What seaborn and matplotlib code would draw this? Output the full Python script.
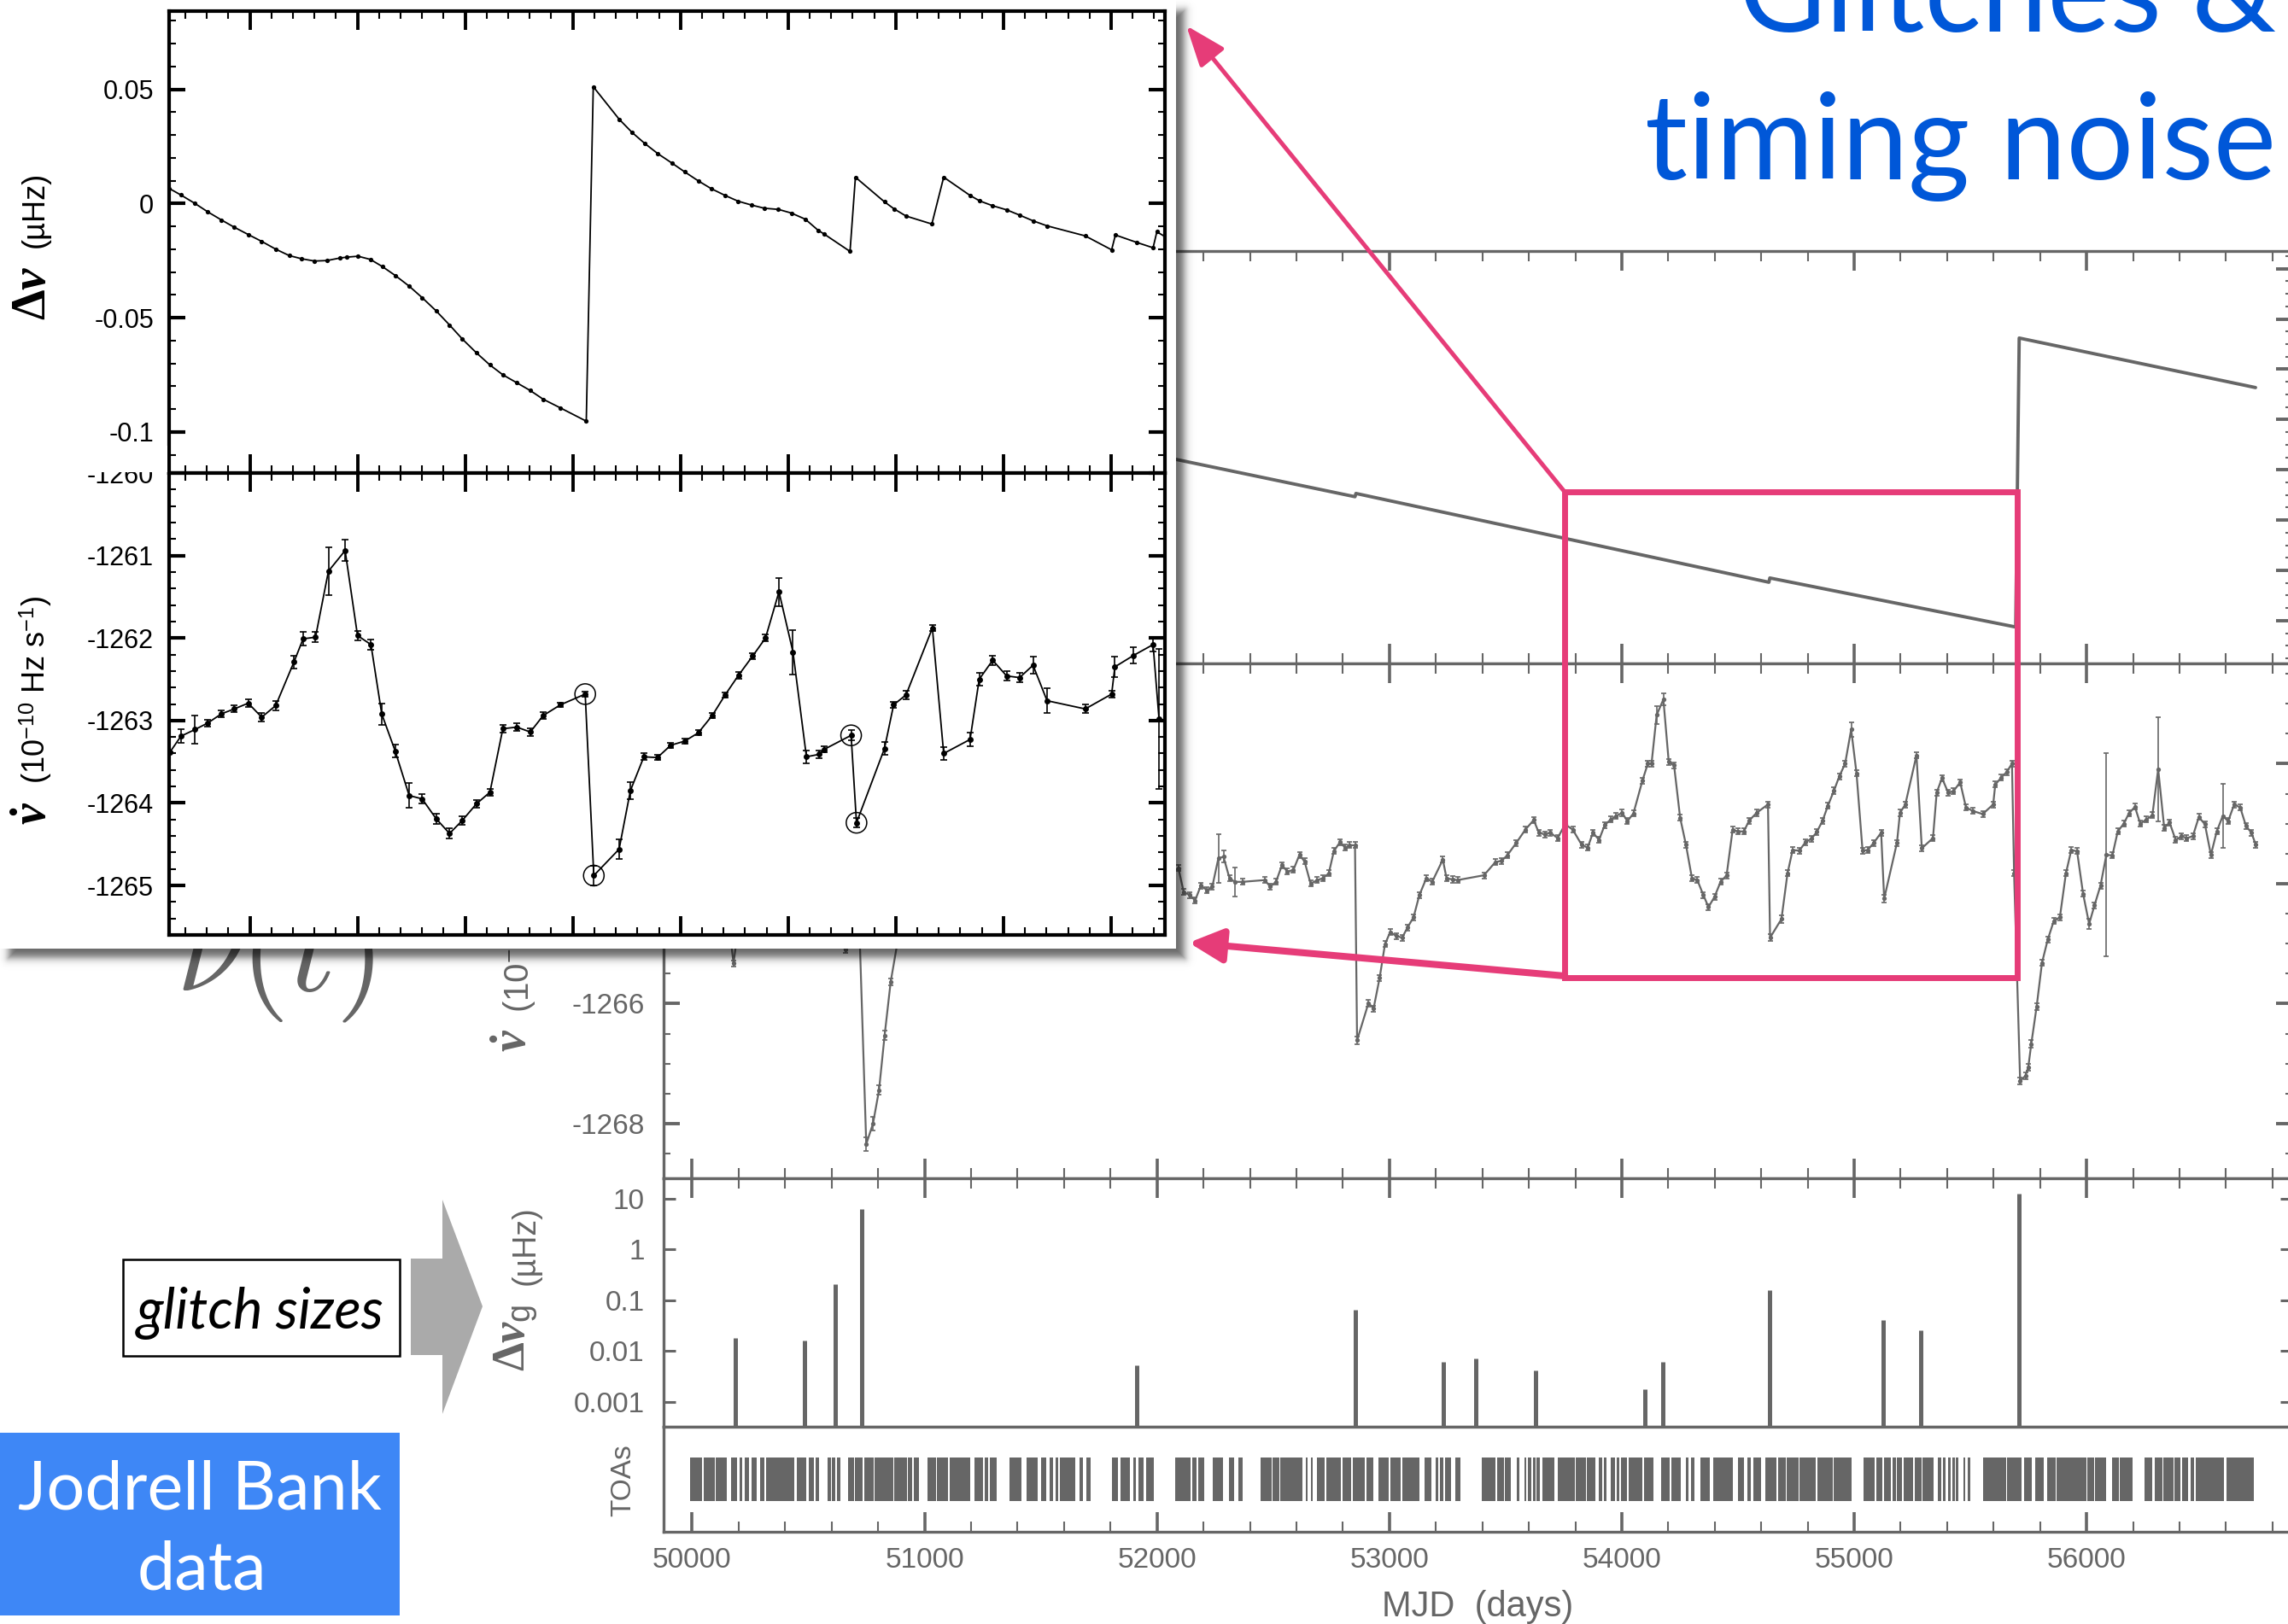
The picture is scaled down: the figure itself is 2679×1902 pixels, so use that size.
import numpy as np
import matplotlib
matplotlib.use("Agg")
import matplotlib.pyplot as plt
import seaborn as sns
from matplotlib.patches import Rectangle, Polygon, FancyArrowPatch
from matplotlib.ticker import MultipleLocator, LogLocator, NullFormatter

# ---------------------------------------------------------------- data
# glitch epochs (MJD) and sizes (microHz)
GLITCH_MJD = [50185, 50482, 50614, 50731, 51914, 52854, 53234, 53370, 53629,
              54101, 54175, 54637, 55124, 55285, 55709]
GLITCH_SIZE = [0.018, 0.016, 0.21, 6.2, 0.0052, 0.065, 0.0062, 0.0072, 0.0041,
               0.0018, 0.0062, 0.16, 0.041, 0.026, 12.3]

# spin frequency (arbitrary offset units) at break points
NU_MJD = [49990, 52092, 52852, 52856, 54633, 54637, 55695, 55710, 56727]
NU_VAL = [5.22, 3.197, 2.465, 2.530, 0.764, 0.849, -0.126, 5.620, 4.635]

# frequency derivative, full data span (1e-10 Hz/s)
NUDOT_MJD = [
    49990, 50060, 50120, 50165, 50178, 50192, 50260, 50380, 50480, 50560,
    50658, 50720, 50749, 50778, 50804, 50828, 50854, 50900, 51000, 51200,
    51450, 51700, 51950, 52050,
    52092, 52115, 52141, 52164, 52189, 52215, 52238, 52264, 52286, 52312,
    52335, 52367, 52464, 52487, 52512, 52538, 52561, 52587, 52613, 52635,
    52661, 52690, 52713, 52739, 52761, 52787, 52810, 52829, 52852, 52861,
    52910, 52932, 52958, 52981, 53003, 53029, 53055, 53078, 53104, 53129,
    53159, 53184, 53230, 53246, 53272, 53294, 53407, 53456, 53482, 53507,
    53546, 53585, 53621, 53643, 53669, 53692, 53724, 53756, 53789, 53827,
    53853, 53876, 53902, 53927, 53953, 53976, 54002, 54024, 54050, 54089,
    54112, 54128, 54150, 54179, 54202, 54225, 54251, 54276, 54302, 54325,
    54351, 54373, 54399, 54425, 54451, 54477, 54499, 54525, 54548, 54580,
    54629, 54638, 54687, 54713, 54735, 54764, 54790, 54816, 54839, 54864,
    54887, 54913, 54936, 54961, 54987, 55010, 55036, 55058, 55084, 55116,
    55129, 55184, 55197, 55220, 55268, 55291, 55339, 55355, 55378, 55404,
    55427, 55456, 55481, 55511, 55553, 55598, 55607, 55633, 55656, 55679,
    55688, 55714, 55737, 55749, 55762, 55785, 55808, 55833, 55859, 55885,
    55911, 55934, 55959, 55985, 56011, 56034, 56060, 56085, 56111, 56134,
    56160, 56182, 56208, 56231, 56257, 56283, 56308, 56334, 56357, 56383,
    56409, 56431, 56457, 56483, 56509, 56535, 56560, 56586, 56609, 56635,
    56661, 56686, 56709, 56728]
NUDOT_VAL = [
    -1264.20, -1264.50, -1264.70, -1264.90, -1265.33, -1264.90, -1264.60, -1264.30, -1264.70, -1264.40,
    -1265.10, -1264.80, -1268.34, -1268.00, -1267.44, -1266.53, -1265.64, -1264.60, -1264.20, -1263.90,
    -1263.80, -1263.90, -1264.00, -1263.85,
    -1263.74, -1264.14, -1264.19, -1264.28, -1264.03, -1264.11, -1264.05, -1263.58, -1263.55, -1263.91,
    -1263.97, -1263.97, -1263.94, -1264.05, -1263.97, -1263.69, -1263.80, -1263.77, -1263.52, -1263.63,
    -1264.00, -1263.94, -1263.91, -1263.83, -1263.46, -1263.31, -1263.40, -1263.36, -1263.36, -1266.61,
    -1265.99, -1266.08, -1265.57, -1265.01, -1264.81, -1264.87, -1264.90, -1264.73, -1264.56, -1264.19,
    -1263.91, -1263.97, -1263.60, -1263.91, -1263.93, -1263.94, -1263.86, -1263.64, -1263.62, -1263.53,
    -1263.32, -1263.10, -1262.94, -1263.15, -1263.18, -1263.15, -1263.24, -1263.01, -1263.10, -1263.35,
    -1263.40, -1263.15, -1263.27, -1263.02, -1262.93, -1262.87, -1262.82, -1262.96, -1262.83, -1262.28,
    -1262.00, -1262.00, -1261.19, -1260.93, -1261.97, -1262.03, -1262.90, -1263.35, -1263.91, -1263.94,
    -1264.19, -1264.39, -1264.22, -1263.97, -1263.86, -1263.10, -1263.13, -1263.13, -1262.95, -1262.82,
    -1262.68, -1264.90, -1264.59, -1263.83, -1263.44, -1263.45, -1263.31, -1263.25, -1263.14, -1262.95,
    -1262.70, -1262.45, -1262.21, -1262.00, -1261.43, -1262.16, -1263.45, -1263.44, -1263.32, -1263.15,
    -1264.25, -1263.32, -1262.82, -1262.68, -1261.86, -1263.41, -1263.24, -1262.48, -1262.24, -1262.48,
    -1262.46, -1262.31, -1262.73, -1262.79, -1262.84, -1262.68, -1262.35, -1262.23, -1262.14, -1262.00,
    -1263.83, -1267.29, -1267.20, -1267.06, -1266.67, -1266.05, -1265.32, -1264.93, -1264.62, -1264.56,
    -1263.83, -1263.44, -1263.46, -1264.17, -1264.67, -1264.36, -1264.03, -1263.52, -1263.53, -1263.13,
    -1263.00, -1262.83, -1262.72, -1263.00, -1262.93, -1262.86, -1262.09, -1263.07, -1262.98, -1263.27,
    -1263.21, -1263.24, -1263.21, -1262.89, -1263.01, -1263.52, -1263.13, -1262.87, -1262.96, -1262.68,
    -1262.73, -1263.04, -1263.15, -1263.35]
NUDOT_ERR = [
    0.05, 0.05, 0.05, 0.05, 0.05, 0.05, 0.05, 0.05, 0.05, 0.05,
    0.05, 0.05, 0.12, 0.12, 0.08, 0.08, 0.06, 0.05, 0.05, 0.05,
    0.05, 0.05, 0.05, 0.05,
    0.05, 0.05, 0.05, 0.05, 0.05, 0.05, 0.05, 0.41, 0.10, 0.05,
    0.24, 0.05, 0.05, 0.05, 0.05, 0.05, 0.05, 0.05, 0.05, 0.05,
    0.05, 0.05, 0.05, 0.05, 0.05, 0.05, 0.05, 0.05, 0.05, 0.06,
    0.06, 0.05, 0.05, 0.05, 0.05, 0.05, 0.05, 0.05, 0.05, 0.05,
    0.05, 0.05, 0.05, 0.05, 0.05, 0.05, 0.05, 0.05, 0.05, 0.05,
    0.05, 0.05, 0.05, 0.05, 0.05, 0.05, 0.05, 0.05, 0.05, 0.05,
    0.05, 0.05, 0.05, 0.05, 0.05, 0.05, 0.05, 0.05, 0.05, 0.05,
    0.05, 0.05, 0.15, 0.10, 0.05, 0.05, 0.05, 0.05, 0.05, 0.05,
    0.05, 0.05, 0.05, 0.05, 0.05, 0.05, 0.05, 0.05, 0.05, 0.05,
    0.05, 0.06, 0.06, 0.05, 0.05, 0.05, 0.05, 0.05, 0.05, 0.05,
    0.05, 0.05, 0.05, 0.05, 0.12, 0.05, 0.05, 0.05, 0.05, 0.05,
    0.06, 0.05, 0.05, 0.05, 0.05, 0.05, 0.05, 0.05, 0.05, 0.05,
    0.05, 0.05, 0.05, 0.05, 0.05, 0.05, 0.05, 0.05, 0.05, 0.05,
    0.05, 0.06, 0.06, 0.06, 0.06, 0.05, 0.05, 0.05, 0.05, 0.05,
    0.05, 0.05, 0.05, 0.05, 0.08, 0.05, 0.05, 1.69, 0.05, 0.05,
    0.05, 0.05, 0.05, 0.05, 0.05, 0.05, 0.87, 0.05, 0.05, 0.05,
    0.05, 0.05, 0.05, 0.05, 0.05, 0.05, 0.05, 0.54, 0.05, 0.05,
    0.05, 0.05, 0.05, 0.05]

# times of arrival: observing blocks (start, end MJD)
TOA_START = [
    49991, 50048, 50100, 50168, 50205, 50227, 50255, 50292, 50318, 50449,
    50501, 50532, 50582, 50601, 50623, 50671, 50701, 50741, 50786, 50871,
    50928, 50954, 51011, 51054, 51109, 51213, 51257, 51281, 51364, 51438,
    51501, 51538, 51562, 51582, 51667, 51697, 51806, 51843, 51897, 51922,
    51952, 52078, 52152, 52176, 52240, 52309, 52349, 52444, 52497, 52532,
    52640, 52662, 52688, 52728, 52797, 52841, 52902, 52952, 53004, 53054,
    53152, 53200, 53218, 53240, 53285,
    53399, 53464, 53497, 53549, 53580, 53597, 53619, 53632, 53660, 53726,
    53802, 53850, 53900, 53922, 53954, 53978, 53998, 54031, 54096, 54168,
    54212, 54277, 54299, 54338, 54395, 54499, 54540, 54567, 54617, 54671,
    54710, 54765, 54841, 54913, 55039, 55094, 55127, 55166, 55185, 55212,
    55262, 55294, 55360, 55381, 55403, 55421, 55438, 55471, 55490, 55556,
    55658, 55730, 55780, 55830, 55872, 56002, 56035, 56111, 56144, 56251,
    56294, 56329, 56377, 56410, 56447, 56469, 56601]
TOA_END = [
    50041, 50096, 50150, 50194, 50216, 50244, 50277, 50309, 50440, 50492,
    50523, 50545, 50597, 50617, 50636, 50695, 50732, 50780, 50867, 50924,
    50948, 50974, 51048, 51102, 51196, 51250, 51272, 51312, 51418, 51486,
    51525, 51551, 51573, 51649, 51682, 51715, 51832, 51882, 51908, 51941,
    51987, 52144, 52170, 52205, 52283, 52331, 52368, 52492, 52525, 52627,
    52649, 52671, 52721, 52791, 52836, 52895, 52932, 52998, 53048, 53128,
    53181, 53211, 53233, 53264, 53305,
    53458, 53493, 53523, 53558, 53588, 53610, 53628, 53649, 53710, 53798,
    53845, 53887, 53915, 53933, 53970, 53989, 54024, 54089, 54137, 54205,
    54255, 54286, 54312, 54377, 54477, 54525, 54554, 54599, 54667, 54706,
    54761, 54835, 54909, 54989, 55087, 55120, 55159, 55181, 55207, 55255,
    55290, 55340, 55373, 55394, 55414, 55432, 55447, 55479, 55501, 55654,
    55719, 55763, 55817, 55867, 55998, 56031, 56085, 56140, 56198, 56281,
    56325, 56373, 56405, 56438, 56464, 56590, 56720]

# zoomed interval: frequency residual (microHz)
DNU_MJD = [
    53850, 53872, 53898, 53922, 53947, 53971, 53997, 54022, 54048, 54073,
    54096, 54120, 54143, 54167, 54180, 54201, 54224, 54246, 54270, 54296,
    54320, 54346, 54371, 54395, 54421, 54446, 54470, 54496, 54521, 54545,
    54577, 54625, 54638, 54686, 54710, 54734, 54758, 54784, 54808, 54833,
    54857, 54883, 54907, 54932, 54956, 54982, 55006, 55032, 55056, 55067,
    55115, 55125, 55179, 55197, 55219, 55267, 55289, 55338, 55356, 55380,
    55406, 55430, 55455, 55481, 55552, 55601, 55608, 55647, 55678, 55685,
    55700]
DNU_VAL = [
    0.0066, 0.0037, 0.0000, -0.0037, -0.0072, -0.0104, -0.0136, -0.0166, -0.0200, -0.0228,
    -0.0242, -0.0252, -0.0250, -0.0239, -0.0235, -0.0231, -0.0245, -0.0276, -0.0315, -0.0362,
    -0.0412, -0.0470, -0.0532, -0.0594, -0.0654, -0.0707, -0.0750, -0.0785, -0.0819, -0.0857,
    -0.0895, -0.0953, 0.0511, 0.0369, 0.0311, 0.0262, 0.0218, 0.0177, 0.0138, 0.0099,
    0.0065, 0.0035, 0.0010, -0.0007, -0.0021, -0.0026, -0.0042, -0.0069, -0.0118, -0.0134,
    -0.0210, 0.0115, 0.0007, -0.0024, -0.0055, -0.0090, 0.0115, 0.0035, 0.0011, -0.0010,
    -0.0028, -0.0051, -0.0076, -0.0098, -0.0142, -0.0203, -0.0138, -0.0170, -0.0194, -0.0124,
    -0.0145]

# zoomed interval: frequency derivative (1e-10 Hz/s)
ZNUDOT_MJD = [
    53852, 53872, 53898, 53922, 53947, 53971, 53997, 54022, 54048, 54082,
    54099, 54122, 54146, 54177, 54200, 54225, 54245, 54270, 54296, 54320,
    54346, 54371, 54395, 54421, 54446, 54470, 54496, 54521, 54545, 54577,
    54623, 54639, 54686, 54707, 54732, 54757, 54782, 54808, 54833, 54859,
    54883, 54908, 54934, 54958, 54983, 55009, 55034, 55058, 55067, 55117,
    55127, 55179, 55196, 55219, 55268, 55289, 55338, 55355, 55380, 55406,
    55430, 55455, 55481, 55552, 55601, 55607, 55642, 55678, 55689]
ZNUDOT_VAL = [
    -1263.38, -1263.19, -1263.11, -1263.03, -1262.92, -1262.86, -1262.79, -1262.96, -1262.82, -1262.29,
    -1262.01, -1261.99, -1261.19, -1260.94, -1261.97, -1262.08, -1262.92, -1263.37, -1263.91, -1263.95,
    -1264.19, -1264.37, -1264.21, -1264.01, -1263.87, -1263.10, -1263.08, -1263.14, -1262.94, -1262.81,
    -1262.68, -1264.88, -1264.56, -1263.85, -1263.44, -1263.45, -1263.30, -1263.25, -1263.15, -1262.94,
    -1262.69, -1262.45, -1262.22, -1262.00, -1261.44, -1262.17, -1263.44, -1263.41, -1263.35, -1263.18,
    -1264.24, -1263.34, -1262.81, -1262.69, -1261.88, -1263.40, -1263.23, -1262.50, -1262.27, -1262.46,
    -1262.48, -1262.33, -1262.76, -1262.86, -1262.68, -1262.35, -1262.21, -1262.08, -1262.98]
ZNUDOT_ERR = [
    0.00, 0.08, 0.17, 0.04, 0.04, 0.04, 0.05, 0.05, 0.06, 0.08,
    0.08, 0.06, 0.29, 0.13, 0.06, 0.06, 0.13, 0.08, 0.15, 0.06,
    0.06, 0.06, 0.05, 0.05, 0.04, 0.05, 0.05, 0.05, 0.04, 0.03,
    0.03, 0.12, 0.12, 0.10, 0.04, 0.03, 0.03, 0.03, 0.03, 0.03,
    0.03, 0.04, 0.04, 0.04, 0.17, 0.27, 0.08, 0.05, 0.04, 0.06,
    0.06, 0.08, 0.04, 0.05, 0.04, 0.08, 0.08, 0.08, 0.06, 0.06,
    0.06, 0.10, 0.15, 0.05, 0.04, 0.12, 0.10, 0.08, 0.85]
CIRCLED_MJD = [54623, 54639, 55117, 55127]

MAIN_XTICK_LABELS = ["50000", "51000", "52000", "53000", "54000", "55000", "56000"]
GLITCH_TICKS = [0.001, 0.01, 0.1, 1, 10]
GLITCH_TICK_LABELS = ["0.001", "0.01", "0.1", "1", "10"]
NUDOT_TICKS = [-1268, -1266, -1264, -1262]
ZNUDOT_TICKS = [-1265, -1264, -1263, -1262, -1261, -1260]
DNU_TICKS = [-0.1, -0.05, 0, 0.05]
DNU_TICK_LABELS = ["-0.1", "-0.05", "0", "0.05"]

# ---------------------------------------------------------------- style
sns.set_theme(style="white")
plt.rcParams["font.family"] = ["Liberation Sans", "DejaVu Sans"]
plt.rcParams.update({
    "axes.unicode_minus": False,
    "mathtext.fontset": "custom",
    "mathtext.rm": "Liberation Serif:bold",
    "mathtext.it": "Liberation Serif:italic:bold",
    "mathtext.bf": "Liberation Serif:bold",
    "mathtext.sf": "Liberation Sans",
})

GRAY = "#666666"
PINK = "#E63C78"
BLUE_TITLE = "#0057D8"
BLUE_BOX = "#3E87F6"

W, H = 2679, 1902
fig = plt.figure(figsize=(W / 100, H / 100), dpi=100)
fig.patch.set_facecolor("white")


def box(x0, y0, x1, y1):
    """pixel box measured from the top-left corner -> figure rect"""
    return [x0 / W, 1 - y1 / H, (x1 - x0) / W, (y1 - y0) / H]


def fp(x, y):
    return (x / W, 1 - y / H)


def fig_rect(x0, y0, x1, y1, **kw):
    r = Rectangle((x0 / W, 1 - y1 / H), (x1 - x0) / W, (y1 - y0) / H,
                  transform=fig.transFigure, **kw)
    fig.add_artist(r)
    return r


# ---------------------------------------------------------------- main figure
MAIN_XLIM = (49877, 56885)
ax_nu = fig.add_axes(box(777, 294, 2684, 777), zorder=0)
ax_nd = fig.add_axes(box(777, 777, 2684, 1380), zorder=0)
ax_gl = fig.add_axes(box(777, 1380, 2684, 1671), zorder=0)
ax_toa = fig.add_axes(box(777, 1671, 2684, 1794), zorder=0)


def main_style(ax, top, bottom, yticks=True):
    ax.set_facecolor("white")
    ax.grid(False)
    ax.set_xlim(MAIN_XLIM)
    for s in ax.spines.values():
        s.set_visible(True)
        s.set_color(GRAY)
        s.set_linewidth(2.4)
    ax.xaxis.set_major_locator(MultipleLocator(1000))
    ax.xaxis.set_minor_locator(MultipleLocator(200))
    ax.tick_params(axis="x", which="both", direction="in", top=top, bottom=bottom,
                   labelbottom=False, labeltop=False, color=GRAY)
    ax.tick_params(axis="x", which="major", length=16.5, width=2.6)
    ax.tick_params(axis="x", which="minor", length=8.5, width=1.5)
    ax.tick_params(axis="y", which="both", direction="in", left=yticks, right=yticks,
                   color=GRAY, labelcolor=GRAY, labelsize=24, pad=16)
    ax.tick_params(axis="y", which="major", length=14, width=2.8)
    ax.tick_params(axis="y", which="minor", length=6, width=1.5)
    ax.set_xlabel("")
    ax.set_ylabel("")


# spin frequency
sns.lineplot(x=NU_MJD, y=NU_VAL, ax=ax_nu, color=GRAY, lw=2.8,
             estimator=None, sort=False, legend=False)
main_style(ax_nu, top=True, bottom=True)
ax_nu.set_ylim(-0.85, 7.35)
ax_nu.yaxis.set_major_locator(MultipleLocator(1))
ax_nu.yaxis.set_minor_locator(MultipleLocator(0.25))
ax_nu.tick_params(axis="y", labelleft=False)

# frequency derivative
ax_nd.errorbar(NUDOT_MJD, NUDOT_VAL, yerr=NUDOT_ERR, fmt="none", ecolor=GRAY,
               elinewidth=1.2, capsize=2.2, capthick=1.2)
sns.lineplot(x=NUDOT_MJD, y=NUDOT_VAL, ax=ax_nd, color=GRAY, lw=1.6, marker="o",
             markersize=3.8, markeredgewidth=0, estimator=None, sort=False, legend=False)
main_style(ax_nd, top=True, bottom=True)
ax_nd.set_ylim(-1268.91, -1260.33)
ax_nd.set_yticks(NUDOT_TICKS, labels=[f"{v:d}" for v in NUDOT_TICKS])
ax_nd.yaxis.set_minor_locator(MultipleLocator(0.5))

# glitch sizes
ax_gl.vlines(GLITCH_MJD, 1e-5, GLITCH_SIZE, colors=GRAY, lw=3.6)
main_style(ax_gl, top=True, bottom=False)
ax_gl.set_yscale("log")
ax_gl.set_ylim(3.26e-4, 24.8)
ax_gl.set_yticks(GLITCH_TICKS, labels=GLITCH_TICK_LABELS)
ax_gl.yaxis.set_minor_locator(LogLocator(base=10, subs=np.arange(2, 10)))
ax_gl.yaxis.set_minor_formatter(NullFormatter())
ax_gl.tick_params(axis="y", which="major", length=10, width=2.2)
ax_gl.tick_params(axis="y", which="minor", length=6, width=1.2)

# times of arrival
toa_blocks = [(s, e - s) for s, e in zip(TOA_START, TOA_END)]
ax_toa.broken_barh(toa_blocks, (0.293, 0.414), facecolors=GRAY, edgecolor="none")
main_style(ax_toa, top=False, bottom=True, yticks=False)
ax_toa.set_ylim(0, 1)
ax_toa.set_yticks([])
ax_toa.set_xticks([50000, 51000, 52000, 53000, 54000, 55000, 56000], labels=MAIN_XTICK_LABELS)
ax_toa.tick_params(axis="x", labelbottom=True, labelsize=24, labelcolor=GRAY, pad=13)
ax_toa.set_xlabel("MJD  (days)", fontsize=30, color=GRAY, labelpad=14)

# y-axis titles of the main figure
fig.text(*fp(602, 1232), r"$\dot{\nu}$", rotation=90, ha="center", va="bottom",
         fontsize=40, color=GRAY, zorder=1)
fig.text(*fp(608, 1186), r"(10$^{\mathsf{-10}}$ Hz s$^{\mathsf{-1}}$)", rotation=90,
         ha="center", va="bottom", fontsize=29, color=GRAY, zorder=1)
fig.text(*fp(604, 1606), r"$\Delta\nu_{\mathsf{g}}$", rotation=90, ha="center",
         va="bottom", fontsize=39, color=GRAY, zorder=1)
fig.text(*fp(616, 1505), "(µHz)", rotation=90, ha="center", va="bottom",
         fontsize=27, color=GRAY, zorder=1)
fig.text(*fp(730, 1734), "TOAs", rotation=90, ha="center", va="center",
         fontsize=24, color=GRAY, zorder=1)

# large nu(t) symbol (partly covered by the zoom panel)
fig.text(*fp(206, 1160), r"$\nu(t)$", fontsize=108, color=GRAY, ha="left",
         va="baseline", math_fontfamily="cm", zorder=1)

# highlighted interval
fig_rect(1832, 576, 2362, 1145, fill=False, edgecolor=PINK, lw=5, zorder=3)

# ---------------------------------------------------------------- zoom panel
# soft drop shadow
sh_w, sh_h = 1440, 1170
yy, xx = np.mgrid[0:sh_h, 0:sh_w].astype(float)
x1s, y1s, x2s, y2s = 10.0, 12.0, 1386.0, 1121.0
dx_out = np.maximum(np.maximum(x1s - xx, xx - x2s), 0)
dy_out = np.maximum(np.maximum(y1s - yy, yy - y2s), 0)
outside = np.hypot(dx_out, dy_out)
inside = np.minimum.reduce([xx - x1s, x2s - xx, yy - y1s, y2s - yy])
sdist = np.where(outside > 0, outside, -np.maximum(inside, 0))
alpha = 0.6 * 0.5 * (1 - np.tanh(sdist / 6.0))
shadow = np.zeros((sh_h, sh_w, 4))
shadow[..., 3] = alpha
fig.figimage(shadow, xo=0, yo=H - sh_h, origin="upper", zorder=5)

fig_rect(-10, -10, 1377, 1111, facecolor="white", edgecolor="none", zorder=6)

INSET_XLIM = (53850, 55700)
ax_dn = fig.add_axes(box(198, 13, 1364, 554), zorder=7)
ax_zn = fig.add_axes(box(198, 554, 1364, 1095), zorder=7)


def inset_style(ax):
    ax.set_facecolor("white")
    ax.grid(False)
    ax.set_xlim(INSET_XLIM)
    for s in ax.spines.values():
        s.set_visible(True)
        s.set_color("black")
        s.set_linewidth(3)
    ax.xaxis.set_major_locator(MultipleLocator(200))
    ax.xaxis.set_minor_locator(MultipleLocator(40))
    ax.tick_params(axis="x", which="both", direction="in", top=True, bottom=True,
                   labelbottom=False, color="black")
    ax.tick_params(axis="x", which="major", length=16, width=2.8)
    ax.tick_params(axis="x", which="minor", length=6.5, width=1.5)
    ax.tick_params(axis="y", which="both", direction="in", left=True, right=True,
                   color="black", labelcolor="black", labelsize=22, pad=13)
    ax.tick_params(axis="y", which="major", length=14, width=3)
    ax.tick_params(axis="y", which="minor", length=6, width=1.5)
    ax.set_xlabel("")
    ax.set_ylabel("")


sns.lineplot(x=DNU_MJD, y=DNU_VAL, ax=ax_dn, color="black", lw=1.3, marker="o",
             markersize=3.8, markeredgewidth=0, estimator=None, sort=False, legend=False)
inset_style(ax_dn)
ax_dn.set_ylim(-0.118, 0.0842)
ax_dn.set_yticks(DNU_TICKS, labels=DNU_TICK_LABELS)
ax_dn.yaxis.set_minor_locator(MultipleLocator(0.01))

ax_zn.errorbar(ZNUDOT_MJD, ZNUDOT_VAL, yerr=ZNUDOT_ERR, fmt="none", ecolor="black",
               elinewidth=1.2, capsize=2.8, capthick=1.2)
sns.lineplot(x=ZNUDOT_MJD, y=ZNUDOT_VAL, ax=ax_zn, color="black", lw=1.3, marker="o",
             markersize=5, markeredgewidth=0, estimator=None, sort=False, legend=False)
circ = np.isin(ZNUDOT_MJD, CIRCLED_MJD)
ax_zn.scatter(np.array(ZNUDOT_MJD)[circ], np.array(ZNUDOT_VAL)[circ], s=300,
              facecolors="none", edgecolors="black", linewidths=1.1, zorder=5)
inset_style(ax_zn)
ax_zn.set_ylim(-1265.6, -1260.0)
ax_zn.set_yticks(ZNUDOT_TICKS, labels=[f"{v:d}" for v in ZNUDOT_TICKS])
ax_zn.yaxis.set_minor_locator(MultipleLocator(0.2))

# top label of the lower zoom panel is tucked under the upper panel
fig_rect(60, 522, 196, 553, facecolor="white", edgecolor="none", zorder=8)

fig.text(*fp(38, 375), r"$\Delta\nu$", rotation=90, ha="center", va="bottom",
         fontsize=41, color="black", zorder=9)
fig.text(*fp(41, 290), "(µHz)", rotation=90, ha="center", va="bottom",
         fontsize=26, color="black", zorder=9)
fig.text(*fp(40, 966), r"$\dot{\nu}$", rotation=90, ha="center", va="bottom",
         fontsize=40, color="black", zorder=9)
fig.text(*fp(42, 918), r"(10$^{\mathsf{-10}}$ Hz s$^{\mathsf{-1}}$)", rotation=90,
         ha="center", va="bottom", fontsize=26, color="black", zorder=9)

# connector arrows
arr1 = FancyArrowPatch(fp(1832, 576), fp(1389, 30), transform=fig.transFigure,
                       arrowstyle="-|>,head_length=29,head_width=11", mutation_scale=1,
                       color=PINK, lw=3.6, shrinkA=0, shrinkB=0, zorder=9)
fig.add_artist(arr1)
arr2 = FancyArrowPatch(fp(1832, 1143), fp(1392, 1104), transform=fig.transFigure,
                       arrowstyle="-|>,head_length=24,head_width=12", mutation_scale=1,
                       color=PINK, lw=5.8, shrinkA=0, shrinkB=0, zorder=9)
fig.add_artist(arr2)

# ---------------------------------------------------------------- slide text
fig.text(*fp(2665, 37), "Glitches &", ha="right", va="baseline", fontsize=100,
         family="Lato", color=BLUE_TITLE, zorder=10)
fig.text(*fp(2665, 210), "timing noise", ha="right", va="baseline", fontsize=100,
         family="Lato", color=BLUE_TITLE, zorder=10)

fig_rect(144, 1475, 468, 1588, facecolor="white", edgecolor="black", lw=1.8, zorder=4)
fig.text(*fp(305, 1556), "glitch sizes", ha="center", va="baseline", fontsize=47,
         family="Lato", style="italic", color="black", zorder=5)

arrow_pts = [(481, 1474), (518, 1474), (518, 1405), (565, 1530), (518, 1656),
             (518, 1587), (481, 1587)]
fig.add_artist(Polygon([fp(x, y) for x, y in arrow_pts], closed=True,
                       transform=fig.transFigure, facecolor="#AAAAAA",
                       edgecolor="none", zorder=4))

fig_rect(0, 1678, 468, 1892, facecolor=BLUE_BOX, edgecolor="none", zorder=4)
fig.text(*fp(234, 1767), "Jodrell Bank", ha="center", va="baseline", fontsize=57,
         family="Lato", color="white", zorder=5)
fig.text(*fp(236, 1862), "data", ha="center", va="baseline", fontsize=57,
         family="Lato", color="white", zorder=5)

fig.savefig("out.png", dpi=100, facecolor="white")
